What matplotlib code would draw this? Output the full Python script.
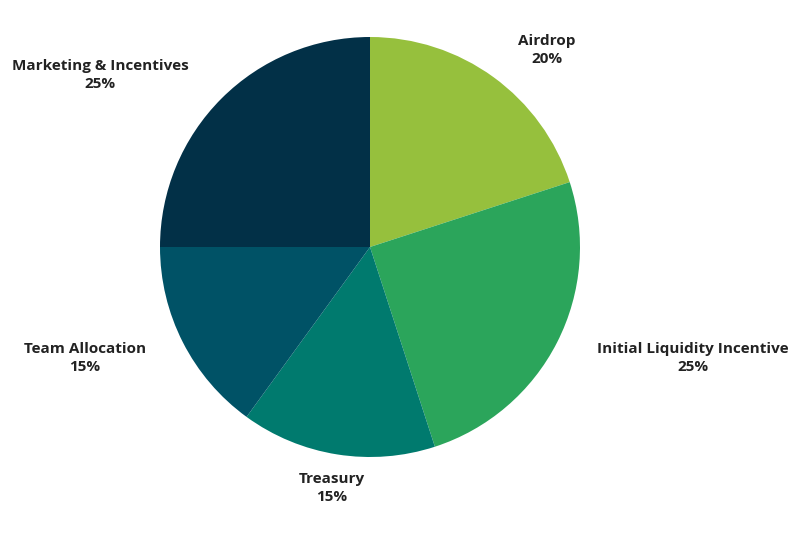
import matplotlib.pyplot as plt

labels = ["Airdrop", "Initial Liquidity Incentive", "Treasury", "Team Allocation", "Marketing & Incentives"]
shares = [20, 25, 15, 15, 25]
colors = ["#96c03d", "#2ba55b", "#007a6e", "#005266", "#023047"]
# label anchor points in units of the pie radius
label_pos = [(0.843, 0.938), (1.538, -0.529), (-0.181, -1.148), (-1.357, -0.529), (-1.286, 0.819)]

plt.rcParams["font.family"] = ["Open Sans", "DejaVu Sans"]

fig = plt.figure(figsize=(8, 5.39), dpi=100)
ax = fig.add_axes([0, 0, 1, 1])
ax.pie(shares, colors=colors, startangle=90, counterclock=False, radius=1,
       wedgeprops=dict(linewidth=0))
for lab, val, (x, y) in zip(labels, shares, label_pos):
    ax.text(x, y, f"{lab}\n{val}%", ha="center", va="center",
            fontsize=11, fontweight="bold", color="#222222", linespacing=1.3)
ax.set_xlim(-370 / 210, 430 / 210)
ax.set_ylim(-292 / 210, 247 / 210)
ax.set_aspect("equal")
ax.axis("off")
fig.savefig("out.png", dpi=100, facecolor="white")
